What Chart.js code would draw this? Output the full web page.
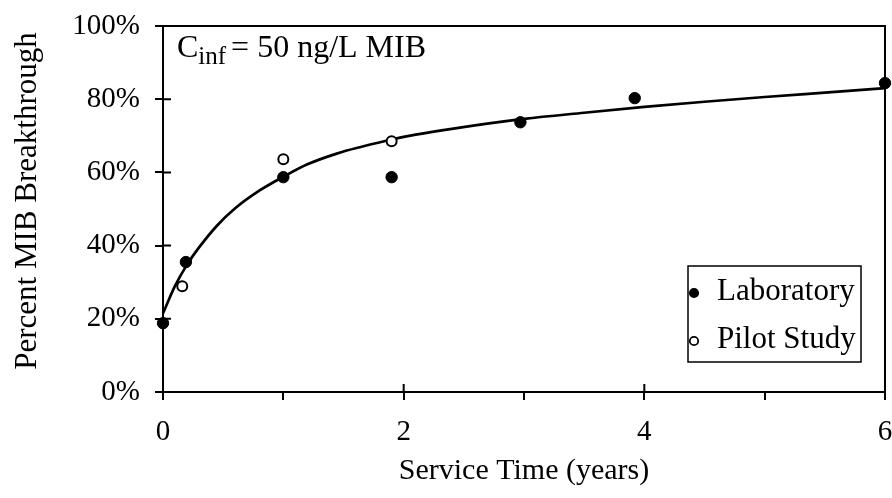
<!DOCTYPE html>
<html><head><meta charset="utf-8">
<script src="https://cdn.jsdelivr.net/npm/chart.js@4.4.1/dist/chart.umd.min.js"></script>
<style>html,body{margin:0;padding:0;background:#fff}#wrap{width:892px;height:498px}</style>
</head><body><div id="wrap"><canvas id="c" width="892" height="498"></canvas></div>
<script>
// ---- data ----
const xTicks = [0, 1, 2, 3, 4, 5, 6];
const xLabelTicks = [0, 2, 4, 6];
const yTicks = [0, 20, 40, 60, 80, 100];

const labTime = [0, 0.19, 1.0, 1.9, 2.97, 3.92, 6.0];
const labBreak = [18.8, 35.5, 58.7, 58.7, 73.7, 80.3, 84.4];

const pilotTime = [0.16, 1.0, 1.9];
const pilotBreak = [28.9, 63.6, 68.5];

// fitted curve, read at points along the drawn line
const fitTime = [0, 0.1, 0.2, 0.3, 0.45, 0.6, 0.8, 1.0, 1.2, 1.45, 1.65, 1.9, 2.1, 2.4, 3.0, 3.5, 4.0, 4.5, 5.0, 5.5, 6.0];
const fitBreak = [21.5, 29, 34.8, 39.5, 45.5, 50.2, 55, 58.8, 62.2, 65.2, 67, 69, 70.3, 71.9, 74.6, 76.3, 77.9, 79.3, 80.6, 81.8, 83];

const yTitle = 'Percent MIB Breakthrough';
const xTitle = 'Service Time (years)';
const annotationMain = 'C';
const annotationSub = 'inf';
const annotationRest = '= 50 ng/L MIB';

const FONT = 'Liberation Serif, "Times New Roman", serif';
const zip = (xs, ys) => xs.map((x, i) => ({x, y: ys[i]}));

const framePlugin = {
  id: 'frame',
  afterDraw(chart) {
    const {ctx, chartArea: a, scales} = chart;
    ctx.save();
    ctx.strokeStyle = '#000';
    ctx.lineWidth = 2;
    ctx.strokeRect(a.left, a.top, a.right - a.left, a.bottom - a.top);
    // inner halves of crossing ticks
    ctx.beginPath();
    yTicks.forEach(v => {
      const y = scales.y.getPixelForValue(v);
      ctx.moveTo(a.left, y); ctx.lineTo(a.left + 8, y);
    });
    xLabelTicks.forEach(v => {
      const x = scales.x.getPixelForValue(v);
      ctx.moveTo(x, a.bottom); ctx.lineTo(x, a.bottom - 8);
    });
    ctx.stroke();

    ctx.fillStyle = '#000';

    // y axis title
    ctx.save();
    ctx.translate(28, 201);
    ctx.rotate(-Math.PI / 2);
    ctx.textAlign = 'center';
    ctx.textBaseline = 'middle';
    ctx.font = '31px ' + FONT;
    ctx.fillText(yTitle, 0, 0);
    ctx.restore();

    // annotation
    ctx.textBaseline = 'alphabetic';
    ctx.textAlign = 'left';
    ctx.font = '32px ' + FONT;
    let x = a.left + 14;
    const base = a.top + 31;
    ctx.fillText(annotationMain, x, base);
    x += ctx.measureText(annotationMain).width;
    ctx.font = '25px ' + FONT;
    ctx.fillText(annotationSub, x, base + 7);
    x += ctx.measureText(annotationSub).width + 5;
    ctx.font = '32px ' + FONT;
    ctx.fillText(annotationRest, x, base);

    // legend
    const lx = 688, ly = 266, lw = 173, lh = 96;
    ctx.lineWidth = 1.5;
    ctx.fillStyle = '#fff';
    ctx.fillRect(lx, ly, lw, lh);
    ctx.strokeRect(lx, ly, lw, lh);
    const items = [chart.data.datasets[0], chart.data.datasets[1]];
    items.forEach((ds, i) => {
      const cy = 293 + i * 48;
      ctx.beginPath();
      ctx.arc(694, cy, 4.2, 0, Math.PI * 2);
      ctx.fillStyle = ds.pointBackgroundColor;
      ctx.fill();
      ctx.lineWidth = 1.8;
      ctx.strokeStyle = '#000';
      ctx.stroke();
      ctx.fillStyle = '#000';
      ctx.font = '31px ' + FONT;
      ctx.fillText(ds.label, 717, cy + 7);
    });
    ctx.restore();
  }
};

new Chart(document.getElementById('c'), {
  type: 'scatter',
  data: {
    datasets: [
      {
        label: 'Laboratory',
        data: zip(labTime, labBreak),
        pointRadius: 5.7,
        pointBackgroundColor: '#000',
        pointBorderColor: '#000',
        pointBorderWidth: 1,
        showLine: false,
        clip: false,
        order: 1
      },
      {
        label: 'Pilot Study',
        data: zip(pilotTime, pilotBreak),
        pointRadius: 5,
        pointBackgroundColor: '#fff',
        pointBorderColor: '#000',
        pointBorderWidth: 2,
        showLine: false,
        clip: false,
        order: 0
      },
      {
        label: 'Fit',
        type: 'line',
        data: zip(fitTime, fitBreak),
        borderColor: '#000',
        borderWidth: 2.7,
        pointRadius: 0,
        cubicInterpolationMode: 'monotone',
        fill: false,
        clip: false,
        order: 2
      }
    ]
  },
  options: {
    responsive: false,
    animation: false,
    devicePixelRatio: 1,
    layout: {padding: {top: 26, right: 7, left: 0, bottom: 0}},
    plugins: {legend: {display: false}, tooltip: {enabled: false}},
    scales: {
      x: {
        type: 'linear', min: 0, max: 6,
        afterBuildTicks: s => { s.ticks = xTicks.map(v => ({value: v})); },
        afterFit: s => { s.height = 106; s.paddingLeft = 0; s.paddingRight = 0; },
        ticks: {
          callback: v => xLabelTicks.includes(v) ? String(v) : '',
          font: {family: FONT, size: 29}, color: '#000', padding: 15, maxRotation: 0, autoSkip: false
        },
        grid: {drawOnChartArea: false, tickLength: 8, color: '#000', lineWidth: 2},
        border: {display: true, color: '#000', width: 2},
        title: {display: true, text: xTitle, font: {family: FONT, size: 30}, color: '#000', padding: {top: 0, bottom: 9}}
      },
      y: {
        type: 'linear', min: 0, max: 100,
        afterBuildTicks: s => { s.ticks = yTicks.map(v => ({value: v})); },
        afterFit: s => { s.width = 163; s.paddingTop = 0; s.paddingBottom = 0; },
        ticks: {
          callback: v => v + '%',
          font: {family: FONT, size: 29}, color: '#000', padding: 15
        },
        grid: {drawOnChartArea: false, tickLength: 8, color: '#000', lineWidth: 2},
        border: {display: true, color: '#000', width: 2},
        title: {display: false}
      }
    }
  },
  plugins: [framePlugin]
});
</script>
</body></html>
